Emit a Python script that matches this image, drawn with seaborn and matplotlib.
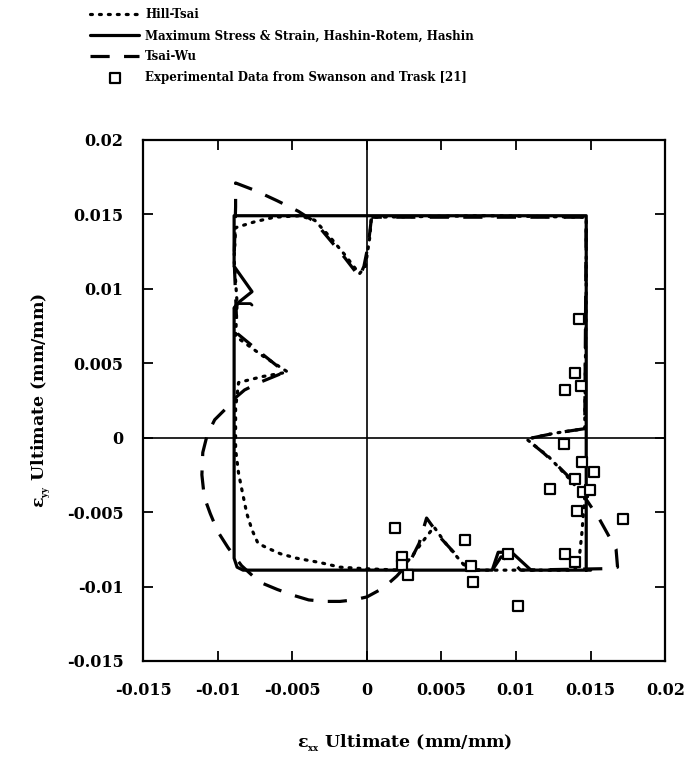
import numpy as np
import pandas as pd
import matplotlib
matplotlib.use("Agg")
import matplotlib.pyplot as plt
import seaborn as sns

# ---------------- data ----------------
# Maximum Stress & Strain, Hashin-Rotem, Hashin envelope (solid)
ms_x = [0.0150, 0.0110, 0.0097, 0.0088, 0.0084, -0.0083, -0.0087, -0.0089,
        -0.0089, -0.0087, -0.0077, -0.0089, -0.0089, 0.0147, 0.0147]
ms_y = [-0.0089, -0.0089, -0.0077, -0.0077, -0.0089, -0.0089, -0.0087, -0.0081,
        0.0087, 0.0090, 0.0098, 0.0115, 0.0149, 0.0149, -0.0089]
ms2_x = [-0.0089, -0.0086, -0.0078, -0.0077]
ms2_y = [0.0087, 0.0090, 0.0090, 0.0089]

# Hill-Tsai envelope (dotted)
ht_x = [0.0146, 0.0147, 0.0147, 0.0080, 0.0003, 0.0002, -0.0001, -0.0005,
        -0.0015, -0.0025, -0.0035, -0.0045, -0.0062, -0.0075, -0.0088, -0.0089,
        -0.0087, -0.0088, -0.0070, -0.0053, -0.0070, -0.0086, -0.0088, -0.0088,
        -0.0086, -0.00838, -0.00805, -0.0077, -0.0073, -0.0067, -0.0058, -0.0047,
        -0.0031, -0.0018, -0.0002, 0.0022, 0.0030, 0.0038, 0.0045, 0.0052,
        0.0062, 0.0068, 0.0139, 0.0142, 0.0144, 0.0146, 0.0136, 0.0122,
        0.0107, 0.0126, 0.0146]
ht_y = [0.0006, 0.0100, 0.0148, 0.0149, 0.0148, 0.0135, 0.0115, 0.0110,
        0.0123, 0.0135, 0.0146, 0.0149, 0.0148, 0.0145, 0.0141, 0.0120,
        0.0090, 0.0068, 0.0055, 0.0044, 0.0041, 0.0037, 0.0020, -0.0008,
        -0.0024, -0.0035, -0.0051, -0.0062, -0.0071, -0.0074, -0.0078, -0.0081,
        -0.0084, -0.0087, -0.0088, -0.0089, -0.0080, -0.0069, -0.0060, -0.0070,
        -0.0082, -0.0089, -0.0089, -0.0084, -0.0065, -0.0040, -0.0028, -0.0013,
        -0.0001, 0.0003, 0.0006]

# Tsai-Wu envelope (dashed)
tw_x = [0.0003, 0.0001, -0.0002, -0.0005, -0.0015, -0.0025, -0.0035, -0.0046,
        -0.0060, -0.0075, -0.0088, -0.0088, -0.0089, -0.0087, -0.0070, -0.0055,
        -0.0072, -0.0082, -0.0089, -0.0093, -0.0102, -0.0107, -0.0110, -0.01106,
        -0.0109, -0.0105, -0.0100, -0.0093, -0.0084, -0.0072, -0.0060, -0.0049,
        -0.0039, -0.0028, -0.0018, -0.0009, 0.0000, 0.0011, 0.0020, 0.0029,
        0.0035, 0.0040, 0.0050, 0.0061, 0.0069, 0.0084, 0.0090, 0.0098,
        0.0103, 0.0161, 0.0168, 0.0167, 0.0161, 0.0156, 0.0148, 0.0136,
        0.0128, 0.0118, 0.0107, 0.0126, 0.0146, 0.0147, 0.0003]
tw_y = [0.0147, 0.0130, 0.0115, 0.0108, 0.0121, 0.0133, 0.0145, 0.0152,
        0.0159, 0.0166, 0.0171, 0.0155, 0.0120, 0.0070, 0.0056, 0.0044,
        0.0037, 0.0032, 0.0026, 0.0021, 0.0012, 0.0002, -0.0010, -0.0025,
        -0.0040, -0.0051, -0.0063, -0.0074, -0.0086, -0.0097, -0.0102, -0.0106,
        -0.0109, -0.0110, -0.0110, -0.0109, -0.0107, -0.0101, -0.0093, -0.0083,
        -0.0071, -0.0054, -0.0068, -0.0080, -0.0089, -0.0089, -0.0080, -0.0084,
        -0.0089, -0.0088, -0.0087, -0.0075, -0.0064, -0.0055, -0.0043, -0.0027,
        -0.0019, -0.0010, -0.0001, 0.0003, 0.0006, 0.0148, 0.0148]

# Experimental data from Swanson and Trask [21]
exp_x = [0.01423, 0.01397, 0.01330, 0.01437, 0.01318, 0.01439, 0.01519, 0.01397,
         0.01224, 0.01446, 0.01497, 0.01408, 0.01715, 0.00190, 0.00659, 0.00233,
         0.00233, 0.00277, 0.00699, 0.00711, 0.00945, 0.01326, 0.01392, 0.01014]
exp_y = [0.00797, 0.00433, 0.00320, 0.00347, -0.00042, -0.00161, -0.00228, -0.00277,
         -0.00345, -0.00363, -0.00355, -0.00492, -0.00544, -0.00609, -0.00687, -0.00801,
         -0.00855, -0.00922, -0.00862, -0.00967, -0.00783, -0.00783, -0.00835, -0.01131]

ticks = [-0.015, -0.01, -0.005, 0, 0.005, 0.01, 0.015, 0.02]
tick_labels = ["-0.015", "-0.01", "-0.005", "0", "0.005", "0.01", "0.015", "0.02"]

labels = ["Hill-Tsai",
          "Maximum Stress & Strain, Hashin-Rotem, Hashin",
          "Tsai-Wu",
          "Experimental Data from Swanson and Trask [21]"]

# ---------------- style ----------------
sns.set_theme(style="ticks")
plt.rcParams["font.family"] = ["DejaVu Serif"]
plt.rcParams["font.weight"] = "bold"
plt.rcParams["text.color"] = "black"
plt.rcParams["axes.labelcolor"] = "black"
plt.rcParams["xtick.color"] = "black"
plt.rcParams["ytick.color"] = "black"
plt.rcParams["mathtext.fontset"] = "custom"
plt.rcParams["mathtext.rm"] = "DejaVu Serif:bold"
plt.rcParams["mathtext.it"] = "DejaVu Serif:bold"
plt.rcParams["mathtext.bf"] = "DejaVu Serif:bold"

fig = plt.figure(figsize=(6.88, 7.71), dpi=100)
ax = fig.add_axes([0.208, 0.1427, 0.759, 0.676])

ax.axhline(0, color="black", lw=1.2, zorder=1)
ax.axvline(0, color="black", lw=1.2, zorder=1)

sns.lineplot(x=ht_x, y=ht_y, sort=False, estimator=None, ax=ax, color="black",
             lw=2.3, linestyle=(0, (0.6, 2.2)), dash_capstyle="round",
             label=labels[0], zorder=3)
sns.lineplot(x=ms_x, y=ms_y, sort=False, estimator=None, ax=ax, color="black",
             lw=2.3, linestyle="-", label=labels[1], zorder=2)
sns.lineplot(x=ms2_x, y=ms2_y, sort=False, estimator=None, ax=ax, color="black",
             lw=2.0, linestyle="-", zorder=2)
sns.lineplot(x=tw_x, y=tw_y, sort=False, estimator=None, ax=ax, color="black",
             lw=2.3, linestyle=(0, (6, 4.5)), label=labels[2], zorder=3)
sns.scatterplot(x=exp_x, y=exp_y, ax=ax, marker="s", s=55, facecolor="white",
                edgecolor="black", linewidth=1.6, label=labels[3], zorder=5)

ax.set_xlim(-0.015, 0.02)
ax.set_ylim(-0.015, 0.02)
ax.set_xticks(ticks)
ax.set_xticklabels(tick_labels)
ax.set_yticks(ticks)
ax.set_yticklabels(tick_labels)
ax.tick_params(direction="in", top=True, right=True, length=7, width=1.3,
               labelsize=11.5, labelcolor="black")
ax.tick_params(axis="x", pad=15)
ax.tick_params(axis="y", pad=14)
for lab in ax.get_xticklabels() + ax.get_yticklabels():
    lab.set_fontweight("bold")
for sp in ax.spines.values():
    sp.set_linewidth(1.6)
    sp.set_color("black")

ax.set_xlabel(r"$\varepsilon_{_{xx}}$ Ultimate (mm/mm)", fontsize=12.5,
              fontweight="bold", labelpad=24, color="black")
ax.set_ylabel(r"$\varepsilon_{_{yy}}$ Ultimate (mm/mm)", fontsize=12.5,
              fontweight="bold", labelpad=10, color="black")

h, l = ax.get_legend_handles_labels()
if ax.get_legend() is not None:
    ax.get_legend().remove()
fig.legend(h, l, loc="upper left", bbox_to_anchor=(0.115, 1.003), frameon=False,
           handlelength=4.2, handletextpad=0.5, labelspacing=0.68,
           prop={"weight": "bold", "size": 8.5})

fig.savefig("out.png", dpi=100)
